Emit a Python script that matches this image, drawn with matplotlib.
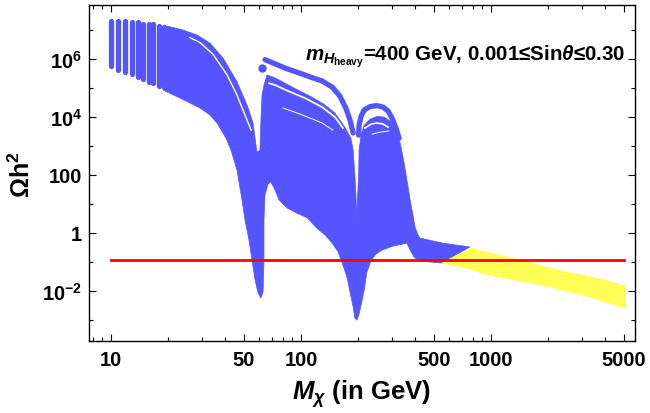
import matplotlib
matplotlib.use("Agg")
import matplotlib.pyplot as plt
from matplotlib.ticker import FixedLocator, FixedFormatter, NullFormatter

plt.rcParams["font.family"] = ["Liberation Sans", "DejaVu Sans"]
plt.rcParams["font.weight"] = "bold"
plt.rcParams["mathtext.fontset"] = "custom"
plt.rcParams["mathtext.rm"] = "Liberation Sans:bold"
plt.rcParams["mathtext.bf"] = "Liberation Sans:bold"
plt.rcParams["mathtext.it"] = "Liberation Sans:italic:bold"

BLUE = "#5555ff"
YELLOW = "#ffff55"

# ---- data (M_chi in GeV, Omega h^2) ----
# separate columns of points at the lowest masses
col_mass = [10, 10.9, 11.9, 12.9, 13.8, 14.8, 15.8, 16.7, 17.8, 18.9]
col_top = [2.1e7, 2.1e7, 2.1e7, 2.0e7, 1.9e7, 1.7e7, 1.7e7, 1.6e7, 1.4e7, 1.3e7]
col_bottom = [6.1e5, 4.3e5, 3.8e5, 3.1e5, 2.4e5, 2.1e5, 1.7e5, 1.5e5, 1.2e5, 1.1e5]

# outline of the dense scan region: upper edge (left -> right)
upper_mass = [18.8, 20.4, 23.9, 28.4, 33.2, 38.9, 46.0, 52.0, 55.9, 58.6, 60.8, 61.5,
              62.3, 63.8, 66.2, 73.0, 82.4, 96.4, 114, 134, 151, 170, 183, 188, 192,
              195, 196, 198, 201, 202, 207, 215, 231, 251, 273, 294, 312, 324, 336,
              348, 366, 375, 388, 398, 413, 423, 559, 775, 552]
upper_omega = [1.4e7, 1.33e7, 1.03e7, 6.9e6, 3.6e6, 1.1e6, 1.7e5, 2.65e4, 6.4e3, 637,
               746, 8.1e3, 5.9e4, 1.3e5, 2.9e5, 2.3e5, 1.5e5, 8.7e4, 5.0e4, 2.65e4,
               1.4e4, 4.6e3, 1.9e3, 746, 103, 14.1, 2.45, 14.1, 103, 746, 2.45e3,
               5.4e3, 8.7e3, 1.07e4, 1.03e4, 7.5e3, 4.3e3, 2.45e3, 946, 288, 39.5,
               14.1, 4.3, 1.65, 0.875, 0.69, 0.46, 0.34, 0.095]
# lower edge (right -> left)
lower_mass = [423, 393, 375, 361, 305, 267, 248, 234, 222, 215, 207, 202, 197, 192,
              188, 181, 175, 166, 157, 146, 134, 121, 108, 95, 84.4, 76.6, 73, 69.5,
              67, 64.6, 63.8, 63.8, 63.1, 61.5, 59.4, 57.3, 55.2, 53.2, 50.7, 48.9,
              46.0, 42.8, 40.3, 36.1, 33.2, 29.4, 23.1, 18.8]
lower_omega = [0.111, 0.152, 0.266, 0.46, 0.365, 0.266, 0.193, 0.12, 0.046, 0.011,
               3.4e-3, 1.65e-3, 1.02e-3, 1.2e-3, 2.9e-3, 9.5e-3, 0.029, 0.081, 0.226,
               0.46, 0.875, 1.52, 3.4, 5.0, 7.5, 14.1, 31, 59, 50, 21, 2.9, 0.12,
               9.5e-3, 5.9e-3, 8.7e-3, 0.0245, 0.12, 0.59, 2.9, 14.1, 152, 746, 1.9e3,
               6.4e3, 1.2e4, 2.1e4, 4.6e4, 8.7e4]

# outermost arcs above the two lobes (sin theta = 0.001 branch)
arc2_mass = [64.6, 71.2, 82.4, 96.4, 114, 129, 146, 160, 172, 181, 188]
arc2_omega = [9.8e5, 7.5e5, 5.0e5, 3.5e5, 2.36e5, 1.8e5, 1.1e5, 5.4e4, 2.1e4, 8.1e3, 2.9e3]
arc3_mass = [201, 202, 207, 215, 231, 251, 270, 287, 301, 316, 328]
arc3_omega = [2.45e3, 5.4e3, 1.1e4, 1.8e4, 2.36e4, 2.55e4, 2.26e4, 1.65e4, 9.5e3, 4.3e3, 1.9e3]
lone_mass = [62.3]
lone_omega = [5.0e5]

# thin empty gaps between neighbouring sin theta branches
gap1_mass = [26.0, 29.4, 34.4, 40.8, 46.0, 50.7, 54.6]
gap1_omega = [5.6e6, 3.8e6, 1.5e6, 2.9e5, 5.9e4, 1.2e4, 3.65e3]
gap2_mass = [67.9, 73.0, 85.4, 105, 129, 151, 166]
gap2_omega = [1.5e5, 1.3e5, 8.1e4, 4.6e4, 2.26e4, 1.02e4, 4.3e3]
gap2b_mass = [80.4, 98.9, 129, 147]
gap2b_omega = [2.1e4, 1.3e4, 6.4e3, 3.65e3]
gap3_mass = [217, 234, 251, 270, 287]
gap3_omega = [4.3e3, 5.9e3, 6.4e3, 5.9e3, 4.6e3]
gap3b_mass = [237, 261, 290]
gap3b_omega = [2.65e3, 3.1e3, 3.4e3]

# allowed points (yellow)
allowed_mass = [552, 775, 897, 1420, 2510, 3750, 5100, 5100, 3050, 1660, 964, 775]
allowed_omega = [0.095, 0.31, 0.245, 0.12, 0.046, 0.0265, 0.0152, 2.65e-3, 7.5e-3,
                 0.0193, 0.0365, 0.059]

relic_omega = 0.12
relic_mass = [10, 5000]

xticks = [10, 50, 100, 500, 1000, 5000]
xticklabels = ["10", "50", "100", "500", "1000", "5000"]
xminor = [8, 9, 20, 30, 40, 60, 70, 80, 90, 200, 300, 400, 600, 700, 800, 900,
          2000, 3000, 4000]
yticks = [1e-2, 1, 1e2, 1e4, 1e6]
yticklabels = [r"$\mathbf{10^{-2}}$", "1", "100", r"$\mathbf{10^{4}}$", r"$\mathbf{10^{6}}$"]
yminor = [1e-3, 1e-1, 1e1, 1e3, 1e5, 1e7]

fig = plt.figure(figsize=(6.5, 4.13), dpi=100)
ax = fig.add_axes([0.137, 0.174, 0.840, 0.815])
ax.set_xscale("log")
ax.set_yscale("log")

ax.fill(upper_mass + lower_mass, upper_omega + lower_omega, color=BLUE, lw=0.5, zorder=2)
for m, lo, hi in zip(col_mass, col_bottom, col_top):
    ax.plot([m, m], [lo, hi], color=BLUE, lw=3.8, solid_capstyle="round", zorder=2)
ax.plot(arc2_mass, arc2_omega, color=BLUE, lw=3.8, solid_capstyle="round", zorder=2)
ax.plot(arc3_mass, arc3_omega, color=BLUE, lw=3.8, solid_capstyle="round", zorder=2)
ax.plot(lone_mass, lone_omega, "o", color=BLUE, ms=5, zorder=2)

for gm, go, w in [(gap1_mass, gap1_omega, 1.0), (gap2_mass, gap2_omega, 1.3),
                  (gap2b_mass, gap2b_omega, 0.7), (gap3_mass, gap3_omega, 1.2),
                  (gap3b_mass, gap3b_omega, 0.7)]:
    ax.plot(gm, go, color="white", lw=w, zorder=3)

ax.fill(allowed_mass, allowed_omega, color=YELLOW, lw=0.5, zorder=4)
ax.plot(relic_mass, [relic_omega, relic_omega], color="red", lw=2.0, zorder=5)

ax.set_xlim(7.66, 5727)
ax.set_ylim(1.93e-4, 7.76e7)

ax.xaxis.set_major_locator(FixedLocator(xticks))
ax.xaxis.set_major_formatter(FixedFormatter(xticklabels))
ax.xaxis.set_minor_locator(FixedLocator(xminor))
ax.xaxis.set_minor_formatter(NullFormatter())
ax.yaxis.set_major_locator(FixedLocator(yticks))
ax.yaxis.set_major_formatter(FixedFormatter(yticklabels))
ax.yaxis.set_minor_locator(FixedLocator(yminor))
ax.yaxis.set_minor_formatter(NullFormatter())

ax.tick_params(which="both", direction="in", top=True, right=True, width=0.8,
               labelsize=14.5)
ax.tick_params(which="major", length=5)
ax.tick_params(which="minor", length=3)
ax.tick_params(axis="x", pad=7)
ax.tick_params(axis="y", pad=5)
for s in ax.spines.values():
    s.set_linewidth(1.0)

fig.text(0.556, 0.046, r"$M_{\chi}$ (in GeV)", ha="center", va="center", fontsize=18.5)
fig.text(0.034, 0.576, r"$\mathbf{\Omega h^{2}}$", ha="center", va="center",
         rotation=90, fontsize=18)
ax.text(0.396, 0.835, r"$m_{H_{\mathbf{heavy}}}$=400 GeV, 0.001≤Sin$\theta$≤0.30",
        transform=ax.transAxes, ha="left", va="baseline", fontsize=14.8)

fig.savefig("out.png", dpi=100)
